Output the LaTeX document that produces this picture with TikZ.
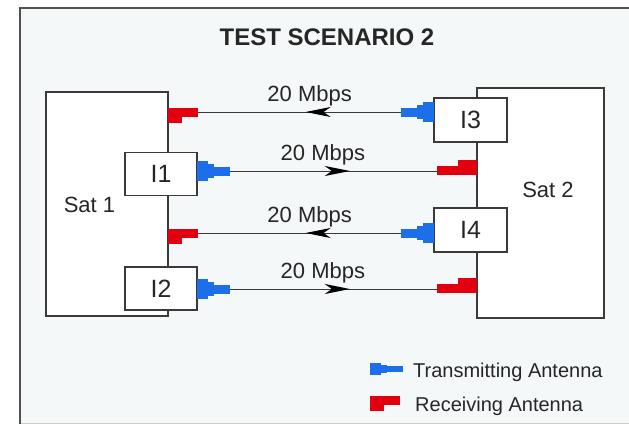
\documentclass[tikz,border=0pt]{standalone}
\usepackage{fontspec}
\setmainfont{Liberation Sans}
\usetikzlibrary{arrows.meta,decorations.markings}

\definecolor{bgfill}{HTML}{F5F8F8}
\definecolor{framegray}{HTML}{505050}
\definecolor{boxgray}{HTML}{3A3A3A}
\definecolor{txblue}{HTML}{1C6FE8}
\definecolor{rxred}{HTML}{E2000F}
\definecolor{txtgray}{HTML}{262626}

\tikzset{
  satbox/.style={draw=boxgray, line width=1.3pt, fill=white, inner sep=0pt},
  ifbox/.style={satbox, minimum width=72pt, minimum height=43pt,
    font=\fontsize{25}{28}\selectfont, text=txtgray},
  txtlbl/.style={font=\fontsize{22}{26}\selectfont, text=txtgray},
  link/.style={draw=boxgray, line width=1pt, postaction={decorate},
    decoration={markings, mark=at position #1 with
      {\arrow[black]{Stealth[length=25pt,width=10pt,inset=7pt]}}}},
  rate/.style={txtlbl, anchor=base, yshift=11pt, pos=0.45},
  % transmitting antenna: horn towards +x
  txant/.pic={
    \fill[txblue] (0,-10) rectangle (11,10);
    \fill[txblue] (11,-7) rectangle (17,7);
    \fill[txblue] (17,-4.5) rectangle (33,4.5);
    \coordinate (-tip) at (33,0);
  },
  % receiving antenna
  rxant/.pic={
    \fill[rxred] (0,-4) rectangle (14,11);
    \fill[rxred] (14,-4) rectangle (30,5);
    \coordinate (-tip) at (30,0);
  }
}

\begin{document}
\begin{tikzpicture}[x=1pt, y=-1pt]
  \useasboundingbox (0,0) rectangle (629,426);
  \fill[white] (0,0) rectangle (629,426);

  % frame
  \fill[bgfill] (20,8) rectangle (629,424);
  \draw[gray!40, line width=1pt] (20,423.5) -- (629,423.5);
  \draw[framegray, line width=2pt] (20,424) -- (20,8) -- (629,8);

  \node[font=\fontsize{24}{28}\selectfont\bfseries, text=txtgray, anchor=base] (title) at (327,45) {TEST SCENARIO 2};

  % satellites
  \node[satbox, minimum width=122pt, minimum height=224pt] (sat1) at (107,204) {};
  \node[satbox, minimum width=127pt, minimum height=230pt] (sat2) at (540.5,203) {};
  \node[txtlbl, anchor=base] (sat1lbl) at (89.5,212) {Sat 1};
  \node[txtlbl, anchor=base] (sat2lbl) at (548,197) {Sat 2};

  % interfaces
  \node[ifbox] (if1) at (161,174) {I1};
  \node[ifbox] (if2) at (161,288.5) {I2};
  \node[ifbox, minimum width=73pt, minimum height=44pt] (if3) at (470.5,120) {I3};
  \node[ifbox, minimum width=73pt, minimum height=44pt] (if4) at (470.5,230) {I4};

  % antennas
  \pic (tx1) at (197,171) {txant};
  \pic (tx2) at (197,289) {txant};
  \pic[xscale=-1] (tx3) at (434,112) {txant};
  \pic[xscale=-1] (tx4) at (434,233) {txant};
  \pic (rx1) at (168,112) {rxant};
  \pic (rx3) at (168,233) {rxant};
  \pic[rotate=180, xscale=1.35] (rx2) at (477,171) {rxant};
  \pic[rotate=180, xscale=1.35] (rx4) at (477,289) {rxant};

  % links
  \draw[link=0.47] (tx3-tip) -- (rx1-tip) node[rate] {20 Mbps};
  \draw[link=0.58] (tx1-tip) -- (rx2-tip) node[rate] {20 Mbps};
  \draw[link=0.47] (tx4-tip) -- (rx3-tip) node[rate] {20 Mbps};
  \draw[link=0.58] (tx2-tip) -- (rx4-tip) node[rate] {20 Mbps};

  % legend
  \pic[yscale=0.62] (legtx) at (370,369) {txant};
  \pic (legrx) at (370,400) {rxant};
  \node[font=\fontsize{20}{24}\selectfont, text=txtgray, anchor=base west, inner sep=0pt] (legtxlbl) at (413,377) {Transmitting Antenna};
  \node[font=\fontsize{20}{24}\selectfont, text=txtgray, anchor=base west, inner sep=0pt] (legrxlbl) at (415,411) {Receiving Antenna};
\end{tikzpicture}
\end{document}
